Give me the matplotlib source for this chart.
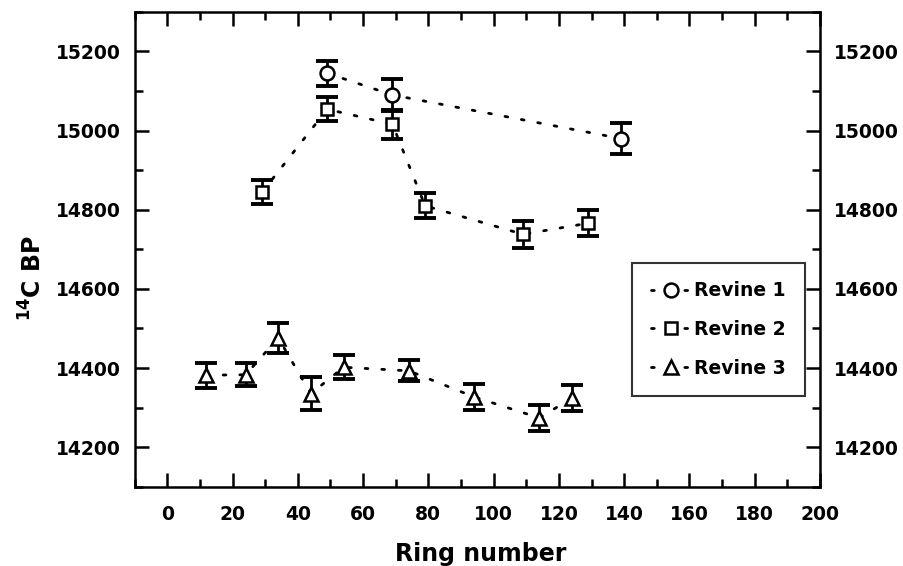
import numpy as np
import matplotlib
matplotlib.use("Agg")
import matplotlib.pyplot as plt
from matplotlib.ticker import MultipleLocator

plt.rcParams['font.family'] = ['DejaVu Sans']
plt.rcParams['font.weight'] = 'bold'
plt.rcParams['mathtext.fontset'] = 'custom'
plt.rcParams['mathtext.rm'] = 'DejaVu Sans:bold'
plt.rcParams['mathtext.bf'] = 'DejaVu Sans:bold'

# Revine 1
x1 = [49, 69, 139]
y1 = [15145, 15090, 14980]
e1 = [32, 40, 38]
# Revine 2
x2 = [29, 49, 69, 79, 109, 129]
y2 = [14844, 15054, 15016, 14810, 14738, 14766]
e2 = [30, 30, 37, 32, 34, 33]
# Revine 3
x3 = [12, 24, 34, 44, 54, 74, 94, 114, 124]
y3 = [14382, 14383, 14476, 14335, 14402, 14393, 14327, 14274, 14324]
e3 = [32, 29, 39, 42, 30, 27, 33, 33, 33]

series = [(x1, y1, e1, 'o', 'Revine 1'),
          (x2, y2, e2, 's', 'Revine 2'),
          (x3, y3, e3, '^', 'Revine 3')]

fig = plt.figure(figsize=(9.04, 5.66), dpi=100)
ax = fig.add_axes([0.149, 0.140, 0.758, 0.839])

for x, y, e, m, lab in series:
    ax.errorbar(x, y, yerr=e, fmt='none', ecolor='black', elinewidth=2,
                capsize=8, capthick=2.8, zorder=2)
    ax.plot(x, y, color='black', linestyle=(0, (1, 5)), linewidth=2,
            dash_capstyle='round', marker=m, markersize=10 if m != 's' else 9,
            markerfacecolor='white', markeredgecolor='black',
            markeredgewidth=1.8, zorder=3, label=lab)

ax.set_xlim(-10, 200)
ax.set_ylim(14100, 15300)
ax.xaxis.set_major_locator(MultipleLocator(20))
ax.xaxis.set_minor_locator(MultipleLocator(10))
ax.yaxis.set_major_locator(MultipleLocator(200))
ax.yaxis.set_minor_locator(MultipleLocator(100))
ax.tick_params(which='both', direction='in', top=True, right=True,
               labelright=True, width=1.8, labelsize=13.5)
ax.tick_params(axis='x', which='major', pad=13)
ax.tick_params(axis='y', which='major', pad=10)
ax.tick_params(which='major', length=10)
ax.tick_params(which='minor', length=6)
for s in ax.spines.values():
    s.set_linewidth(1.8)

ax.set_xlabel('Ring number', fontsize=17, fontweight='bold')
ax.set_ylabel(r'$^{\mathrm{14}}$C BP', fontsize=17, fontweight='bold')
ax.xaxis.set_label_coords(0.505, -0.116)
ax.yaxis.set_label_coords(-0.128, 0.44)

leg = ax.legend(loc='upper left', bbox_to_anchor=(0.726, 0.472), fontsize=13.5,
                frameon=True, fancybox=False, edgecolor='black',
                handlelength=2.1, borderpad=1.0, labelspacing=1.05,
                handletextpad=0.2, borderaxespad=0)
leg.get_frame().set_linewidth(1.5)

fig.savefig('out.png', dpi=100)
